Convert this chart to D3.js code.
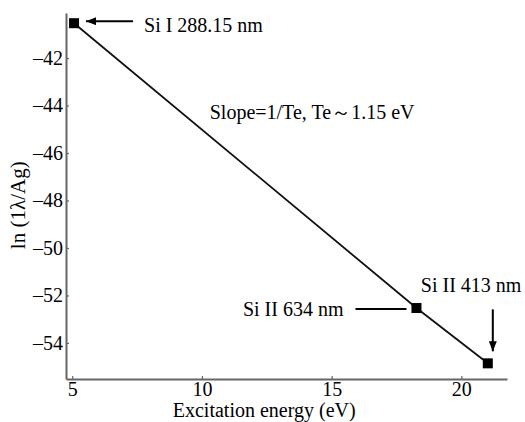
<!DOCTYPE html>
<html>
<head>
<meta charset="utf-8">
<script src="https://cdn.jsdelivr.net/npm/d3@7"></script>
<style>
  body { margin: 0; background: #fff; }
  svg text { font-family: "Liberation Serif", "Times New Roman", serif; fill: #000; }
</style>
</head>
<body>
<div id="chart"></div>
<script>
// excitation energy (eV) and ln(Iλ/Ag)
const energies = [5.07, 18.27, 21.02];
const lnValues = [-40.53, -52.53, -54.86];
const lineLabels = ['Si I 288.15 nm', 'Si II 634 nm', 'Si II 413 nm'];
const xTicks = [5, 10, 15, 20];
const yTicks = [-42, -44, -46, -48, -50, -52, -54];
const slopeNote = 'Slope=1/Te, Te\uFF5E1.15 eV';

const width = 525, height = 422;
const margin = { top: 13, right: 18, bottom: 43, left: 66 };

const svg = d3.select('#chart').append('svg')
  .attr('width', width)
  .attr('height', height);

const x = d3.scaleLinear()
  .domain([4.76, 21.76])
  .range([margin.left, width - margin.right]);

const y = d3.scaleLinear()
  .domain([-55.52, -40.1])
  .range([height - margin.bottom, margin.top]);

const pts = energies.map((e, i) => ({ e: e, v: lnValues[i], label: lineLabels[i] }));

// axes
const xAxis = svg.append('g')
  .attr('transform', `translate(0,${height - margin.bottom})`)
  .call(d3.axisBottom(x).tickValues(xTicks).tickSize(-3).tickSizeOuter(0).tickPadding(3));
const yAxis = svg.append('g')
  .attr('transform', `translate(${margin.left},0)`)
  .call(d3.axisLeft(y).tickValues(yTicks).tickSize(-3).tickSizeOuter(0).tickPadding(3)
    .tickFormat(d => '\u2013' + Math.abs(d)));

[xAxis, yAxis].forEach(g => {
  g.select('.domain').attr('stroke', '#666').attr('stroke-width', 2);
  g.selectAll('.tick line').attr('stroke', '#666').attr('stroke-width', 1.2);
  g.selectAll('.tick text')
    .style('font-family', '"Liberation Serif", "Times New Roman", serif')
    .style('font-size', '20px')
    .attr('fill', '#000');
});

// axis titles
svg.append('text')
  .attr('x', x(12.4))
  .attr('y', height - 5)
  .attr('text-anchor', 'middle')
  .style('font-size', '20px')
  .text('Excitation energy (eV)');

svg.append('text')
  .attr('transform', `translate(25,${y(-48.2)}) rotate(-90)`)
  .attr('text-anchor', 'middle')
  .style('font-size', '21px')
  .text('ln (1\u03BB/Ag)');

// fit line
const line = d3.line().x(d => x(d.e)).y(d => y(d.v));
svg.append('path')
  .datum(pts)
  .attr('d', line)
  .attr('fill', 'none')
  .attr('stroke', '#111')
  .attr('stroke-width', 1.8);

// markers
svg.selectAll('rect.pt')
  .data(pts)
  .enter().append('rect')
  .attr('class', 'pt')
  .attr('x', d => x(d.e) - 5)
  .attr('y', d => y(d.v) - 5)
  .attr('width', 10)
  .attr('height', 10)
  .attr('fill', '#000');

// arrow head marker
svg.append('defs').append('marker')
  .attr('id', 'head')
  .attr('viewBox', '0 0 10 8')
  .attr('refX', 10)
  .attr('refY', 4)
  .attr('markerWidth', 10)
  .attr('markerHeight', 8)
  .attr('markerUnits', 'userSpaceOnUse')
  .attr('orient', 'auto')
  .append('path')
  .attr('d', 'M0,0L10,4L0,8Z')
  .attr('fill', '#000');

// annotations
const p0 = pts[0], p1 = pts[1], p2 = pts[2];

svg.append('line')
  .attr('x1', x(p0.e) + 59).attr('y1', y(p0.v) - 2)
  .attr('x2', x(p0.e) + 12).attr('y2', y(p0.v) - 2)
  .attr('stroke', '#000').attr('stroke-width', 2)
  .attr('marker-end', 'url(#head)');
svg.append('text')
  .attr('x', x(p0.e) + 70)
  .attr('y', y(p0.v) + 9)
  .style('font-size', '20px')
  .text(p0.label);

svg.append('line')
  .attr('x1', x(p1.e) - 61).attr('y1', y(p1.v) + 1)
  .attr('x2', x(p1.e) - 10).attr('y2', y(p1.v) + 1)
  .attr('stroke', '#000').attr('stroke-width', 2);
svg.append('text')
  .attr('x', x(p1.e) - 73)
  .attr('y', y(p1.v) + 8)
  .attr('text-anchor', 'end')
  .style('font-size', '20px')
  .text(p1.label);

svg.append('line')
  .attr('x1', x(p2.e) + 5).attr('y1', y(p2.v) - 54)
  .attr('x2', x(p2.e) + 5).attr('y2', y(p2.v) - 12)
  .attr('stroke', '#000').attr('stroke-width', 2)
  .attr('marker-end', 'url(#head)');
svg.append('text')
  .attr('x', x(p2.e) - 67)
  .attr('y', y(p2.v) - 71)
  .style('font-size', '20px')
  .text(p2.label);

svg.append('text')
  .attr('x', x(10.3))
  .attr('y', y(-44.56))
  .style('font-size', '20px')
  .text(slopeNote);
</script>
</body>
</html>
